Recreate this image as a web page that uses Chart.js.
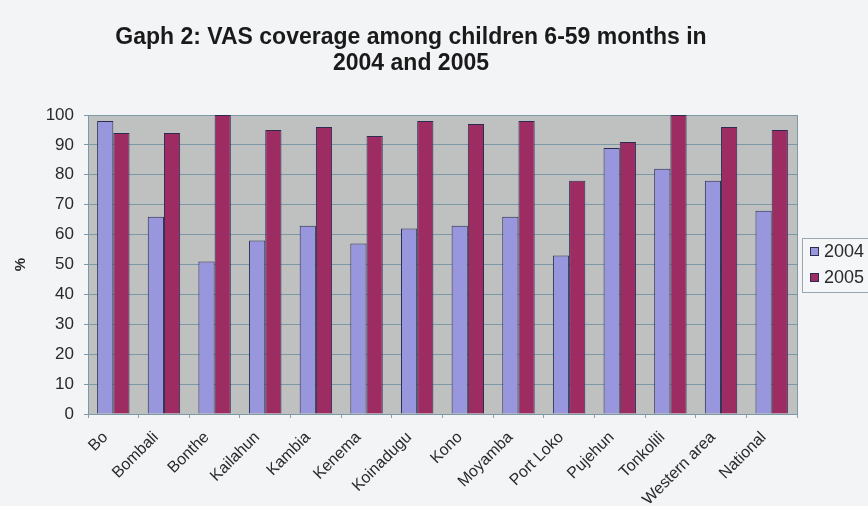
<!DOCTYPE html>
<html>
<head>
<meta charset="utf-8">
<script src="https://cdn.jsdelivr.net/npm/chart.js@4.4.1/dist/chart.umd.min.js"></script>
<style>
  html, body { margin: 0; padding: 0; background: #f3f4f6; }
  #wrap { width: 868px; height: 506px; position: relative; }
</style>
</head>
<body>
<div id="wrap"><canvas id="c" width="868" height="506"></canvas></div>
<script>
const TITLE_LINES = ["Gaph 2: VAS coverage among children 6-59 months in", "2004 and 2005"];
const CATEGORIES = ["Bo", "Bombali", "Bonthe", "Kailahun", "Kambia", "Kenema", "Koinadugu", "Kono", "Moyamba", "Port Loko", "Pujehun", "Tonkolili", "Western area", "National"];
const SERIES_NAMES = ["2004", "2005"];
const VALUES_2004 = [98, 66, 51, 58, 63, 57, 62, 63, 66, 53, 89, 82, 78, 68];
const VALUES_2005 = [94, 94, 100, 95, 96, 93, 98, 97, 98, 78, 91, 100, 96, 95];
const Y_TICKS = [0, 10, 20, 30, 40, 50, 60, 70, 80, 90, 100];
const Y_TITLE = "%";

const FONT = '"Liberation Sans", Arial, sans-serif';

const decor = {
  id: 'decor',
  beforeDraw(chart) {
    const {ctx, chartArea: a} = chart;
    ctx.save();
    ctx.fillStyle = '#bfc0c0';
    ctx.fillRect(a.left, a.top, a.right - a.left, a.bottom - a.top);
    ctx.strokeStyle = '#7d98a6';
    ctx.lineWidth = 1;
    ctx.strokeRect(Math.round(a.left) + 0.5, Math.round(a.top) + 0.5, Math.round(a.right - a.left), Math.round(a.bottom - a.top));
    ctx.restore();
  },
  afterDraw(chart) {
    const ctx = chart.ctx;
    ctx.save();
    // title
    ctx.fillStyle = '#1a1a1a';
    ctx.font = 'bold 23px ' + FONT;
    ctx.textAlign = 'center';
    ctx.textBaseline = 'middle';
    ctx.fillText(TITLE_LINES[0], 411, 38);
    ctx.fillText(TITLE_LINES[1], 411, 64);
    // legend
    const lx = 802, ly = 238;
    ctx.fillStyle = '#f5f6f7';
    ctx.fillRect(lx, ly, 80, 54);
    ctx.strokeStyle = '#9aa6ae';
    ctx.strokeRect(lx + 0.5, ly + 0.5, 80, 54);
    ctx.font = '18px ' + FONT;
    ctx.textAlign = 'left';
    chart.data.datasets.forEach((ds, i) => {
      const y = 251 + i * 26;
      ctx.fillStyle = ds.backgroundColor;
      ctx.fillRect(810, y - 4, 8, 8);
      ctx.strokeStyle = '#2c2c50';
      ctx.strokeRect(810.5, y - 3.5, 8, 8);
      ctx.fillStyle = '#2a2a2a';
      ctx.fillText(ds.label, 824, y + 1);
    });
    ctx.restore();
  }
};

new Chart(document.getElementById('c'), {
  type: 'bar',
  data: {
    labels: CATEGORIES,
    datasets: [
      { label: SERIES_NAMES[0], data: VALUES_2004, backgroundColor: '#9896dc', borderColor: '#2c2c50', borderWidth: 1 },
      { label: SERIES_NAMES[1], data: VALUES_2005, backgroundColor: '#9c2c62', borderColor: '#2c2c50', borderWidth: 1 }
    ]
  },
  plugins: [decor],
  options: {
    responsive: false,
    animation: false,
    layout: { padding: { top: 115, left: 0, right: 71, bottom: 0 } },
    datasets: { bar: { categoryPercentage: 0.64, barPercentage: 1.0 } },
    plugins: {
      title: { display: false },
      tooltip: { enabled: false },
      legend: { display: false }
    },
    scales: {
      x: {
        grid: { display: true, drawOnChartArea: false, drawTicks: true, tickLength: 4, color: '#8aa0ac', offset: true },
        border: { display: true, color: '#7d98a6' },
        ticks: {
          minRotation: 45, maxRotation: 45, autoSkip: false, padding: 10, labelOffset: -8,
          color: '#2a2a2a',
          font: { family: FONT, size: 16 }
        },
        afterFit(axis) { axis.height = 92; }
      },
      y: {
        min: 0, max: 100,
        afterBuildTicks(axis) { axis.ticks = Y_TICKS.map(v => ({ value: v })); },
        grid: { color: '#7d98a6', drawTicks: true, tickLength: 4 },
        border: { display: true, color: '#7d98a6' },
        ticks: {
          padding: 10,
          color: '#2a2a2a',
          font: { family: FONT, size: 17 }
        },
        title: {
          display: true, text: Y_TITLE, color: '#2a2a2a',
          font: { family: FONT, size: 15, weight: 'bold' },
          padding: { top: 12, bottom: 0 }
        },
        afterFit(axis) { axis.width = 88; }
      }
    }
  }
});
</script>
</body>
</html>
